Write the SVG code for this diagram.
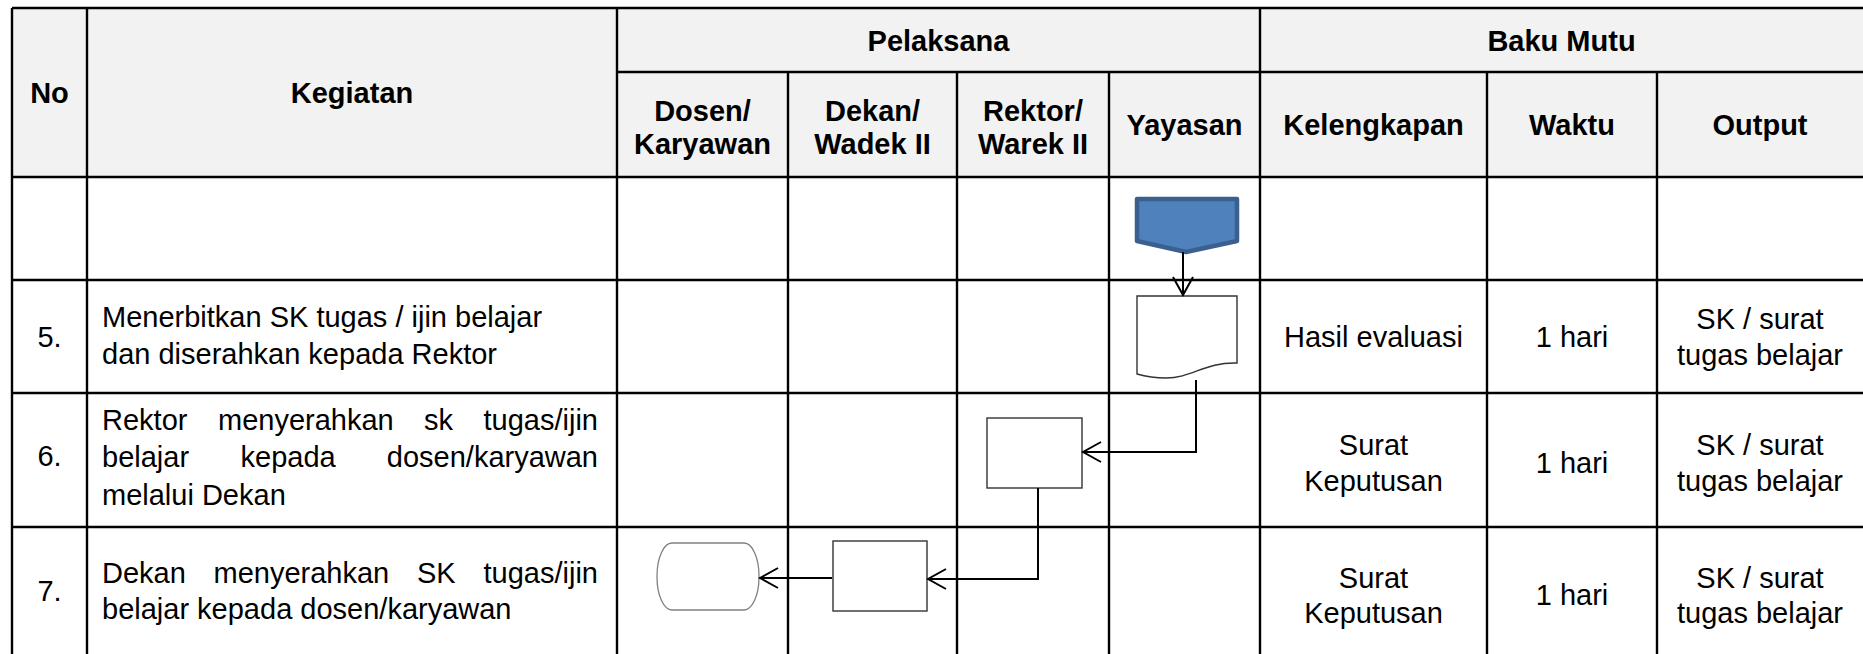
<svg xmlns="http://www.w3.org/2000/svg" width="1863" height="654" viewBox="0 0 1863 654">
<style>
.h{font-family:"Liberation Sans",Arial,sans-serif;font-size:29px;font-weight:bold;fill:#000;text-anchor:middle}
.t{font-family:"Liberation Sans",Arial,sans-serif;font-size:29px;fill:#000}
.c{text-anchor:middle}
.e{text-anchor:end}
.grid{stroke:#000;stroke-width:2.4;fill:none}
.box{fill:#fff;stroke:#333;stroke-width:1.4}
.conn{stroke:#000;stroke-width:2;fill:none}
</style>
<defs>
<marker id="arr" markerUnits="userSpaceOnUse" markerWidth="22" markerHeight="24" viewBox="0 0 22 24" refX="20" refY="12" orient="auto">
<path d="M2,2 L20,12 L2,22" fill="none" stroke="#000" stroke-width="2"/>
</marker>
</defs>
<rect x="0" y="0" width="1863" height="654" fill="#fff"/>
<g id="table">
<rect x="12" y="8" width="1851" height="169" fill="#f2f2f2"/>
<path class="grid" d="M12,8 H1863 M617,72 H1863 M12,177 H1863 M12,280 H1863 M12,393 H1863 M12,527 H1863 M12,8 V654 M87,8 V654 M617,8 V654 M788,72 V654 M957,72 V654 M1109,72 V654 M1260,8 V654 M1487,72 V654 M1657,72 V654"/>
<text class="h" x="49.5" y="103">No</text>
<text class="h" x="352" y="103">Kegiatan</text>
<text class="h" x="938.5" y="51">Pelaksana</text>
<text class="h" x="1561.5" y="51">Baku Mutu</text>
<text class="h" x="702.5" y="121">Dosen/</text>
<text class="h" x="702.5" y="154">Karyawan</text>
<text class="h" x="872.5" y="121">Dekan/</text>
<text class="h" x="872.5" y="154">Wadek II</text>
<text class="h" x="1033" y="121">Rektor/</text>
<text class="h" x="1033" y="154">Warek II</text>
<text class="h" x="1184.5" y="135">Yayasan</text>
<text class="h" x="1373.5" y="135">Kelengkapan</text>
<text class="h" x="1572" y="135">Waktu</text>
<text class="h" x="1760" y="135">Output</text>
</g>
<g id="row5">
<text class="t c" x="49.5" y="347">5.</text>
<text class="t" x="102" y="327">Menerbitkan SK tugas / ijin belajar</text>
<text class="t" x="102" y="364">dan diserahkan kepada Rektor</text>
<text class="t c" x="1373.5" y="347">Hasil evaluasi</text>
<text class="t c" x="1572" y="347">1 hari</text>
<text class="t c" x="1760" y="329">SK / surat</text>
<text class="t c" x="1760" y="365">tugas belajar</text>
</g>
<g id="row6">
<text class="t c" x="49.5" y="466">6.</text>
<text class="t" x="102" y="430">Rektor</text>
<text class="t" x="218" y="430">menyerahkan</text>
<text class="t" x="424" y="430">sk</text>
<text class="t e" x="598" y="430">tugas/ijin</text>
<text class="t" x="102" y="467">belajar</text>
<text class="t" x="240.5" y="467">kepada</text>
<text class="t e" x="598" y="467">dosen/karyawan</text>
<text class="t" x="102" y="505">melalui Dekan</text>
<text class="t c" x="1373.5" y="455">Surat</text>
<text class="t c" x="1373.5" y="491">Keputusan</text>
<text class="t c" x="1572" y="473">1 hari</text>
<text class="t c" x="1760" y="455">SK / surat</text>
<text class="t c" x="1760" y="491">tugas belajar</text>
</g>
<g id="row7">
<text class="t c" x="49.5" y="601">7.</text>
<text class="t" x="102" y="583">Dekan</text>
<text class="t" x="213.5" y="583">menyerahkan</text>
<text class="t" x="417" y="583">SK</text>
<text class="t e" x="598" y="583">tugas/ijin</text>
<text class="t" x="102" y="619">belajar kepada dosen/karyawan</text>
<text class="t c" x="1373.5" y="588">Surat</text>
<text class="t c" x="1373.5" y="623">Keputusan</text>
<text class="t c" x="1572" y="605">1 hari</text>
<text class="t c" x="1760" y="588">SK / surat</text>
<text class="t c" x="1760" y="623">tugas belajar</text>
</g>
<g id="offpage">
<path d="M1137,199 H1237 V241 L1186,252 L1137,241 Z" fill="#4f81bd" stroke="#3b5f8f" stroke-width="4.5" stroke-linejoin="round"/>
</g>
<g id="document">
<path class="box" d="M1137,296 H1237 V363 C1205,362 1192,378 1166,378 C1152,378 1144,376 1137,374 Z"/>
</g>
<g id="rektor-box">
<rect class="box" x="987" y="418" width="95" height="70"/>
</g>
<g id="dekan-box">
<rect class="box" x="833" y="541" width="94" height="70"/>
</g>
<g id="terminator">
<rect x="657" y="543" width="102" height="67" rx="15" ry="33" fill="#fff" stroke="#808080" stroke-width="1.3"/>
</g>
<g id="connectors">
<path class="conn" d="M1183,252 V295" marker-end="url(#arr)"/>
<path class="conn" d="M1196,380 V452 H1083" marker-end="url(#arr)"/>
<path class="conn" d="M1038,488 V579 H928" marker-end="url(#arr)"/>
<path class="conn" d="M832,578 H760" marker-end="url(#arr)"/>
</g>
</svg>
